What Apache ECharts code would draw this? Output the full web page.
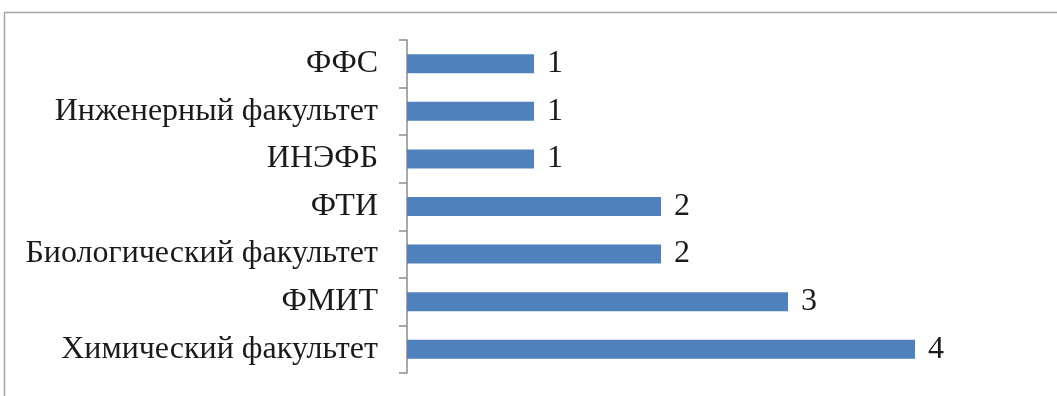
<!DOCTYPE html>
<html>
<head>
<meta charset="utf-8">
<script src="https://cdn.jsdelivr.net/npm/echarts@6/dist/echarts.min.js"></script>
<style>
  html, body { margin: 0; padding: 0; background: #fff; }
  #chart { width: 1057px; height: 396px; }
</style>
</head>
<body>
<div id="chart"></div>
<script>
// Факультеты (снизу вверх, как на оси)
const categories = [
  'Химический факультет',
  'ФМИТ',
  'Биологический факультет',
  'ФТИ',
  'ИНЭФБ',
  'Инженерный факультет',
  'ФФС'
];
const values = [4, 3, 2, 2, 1, 1, 1];

const chart = echarts.init(document.getElementById('chart'));

const option = {
  animation: false,
  textStyle: { fontFamily: '"Liberation Serif", "DejaVu Serif", serif' },
  // рамка области диаграммы (видны только верх и левый край)
  graphic: [{
    type: 'rect',
    shape: { x: 4.5, y: 12.5, width: 1200, height: 600 },
    style: { fill: 'none', stroke: '#a6a6a6', lineWidth: 1.5 },
    silent: true
  }],
  grid: { left: 407, right: 142, top: 40, bottom: 23 },
  xAxis: {
    type: 'value',
    min: 0,
    max: 4,
    show: false
  },
  yAxis: {
    type: 'category',
    data: categories,
    axisLine: { lineStyle: { color: '#8c8c8c', width: 1.5 } },
    axisTick: { show: true, length: 8, lineStyle: { color: '#8c8c8c', width: 1.5 } },
    axisLabel: {
      margin: 29,
      fontSize: 32,
      color: '#1a1a1a',
      fontFamily: '"Liberation Serif", serif'
    }
  },
  series: [{
    type: 'bar',
    data: values,
    barCategoryGap: '60%',
    itemStyle: { color: '#4f81bd' },
    label: {
      show: true,
      position: 'right',
      distance: 13,
      fontSize: 32,
      color: '#1a1a1a',
      fontFamily: '"Liberation Serif", serif'
    }
  }]
};

chart.setOption(option);
</script>
</body>
</html>
